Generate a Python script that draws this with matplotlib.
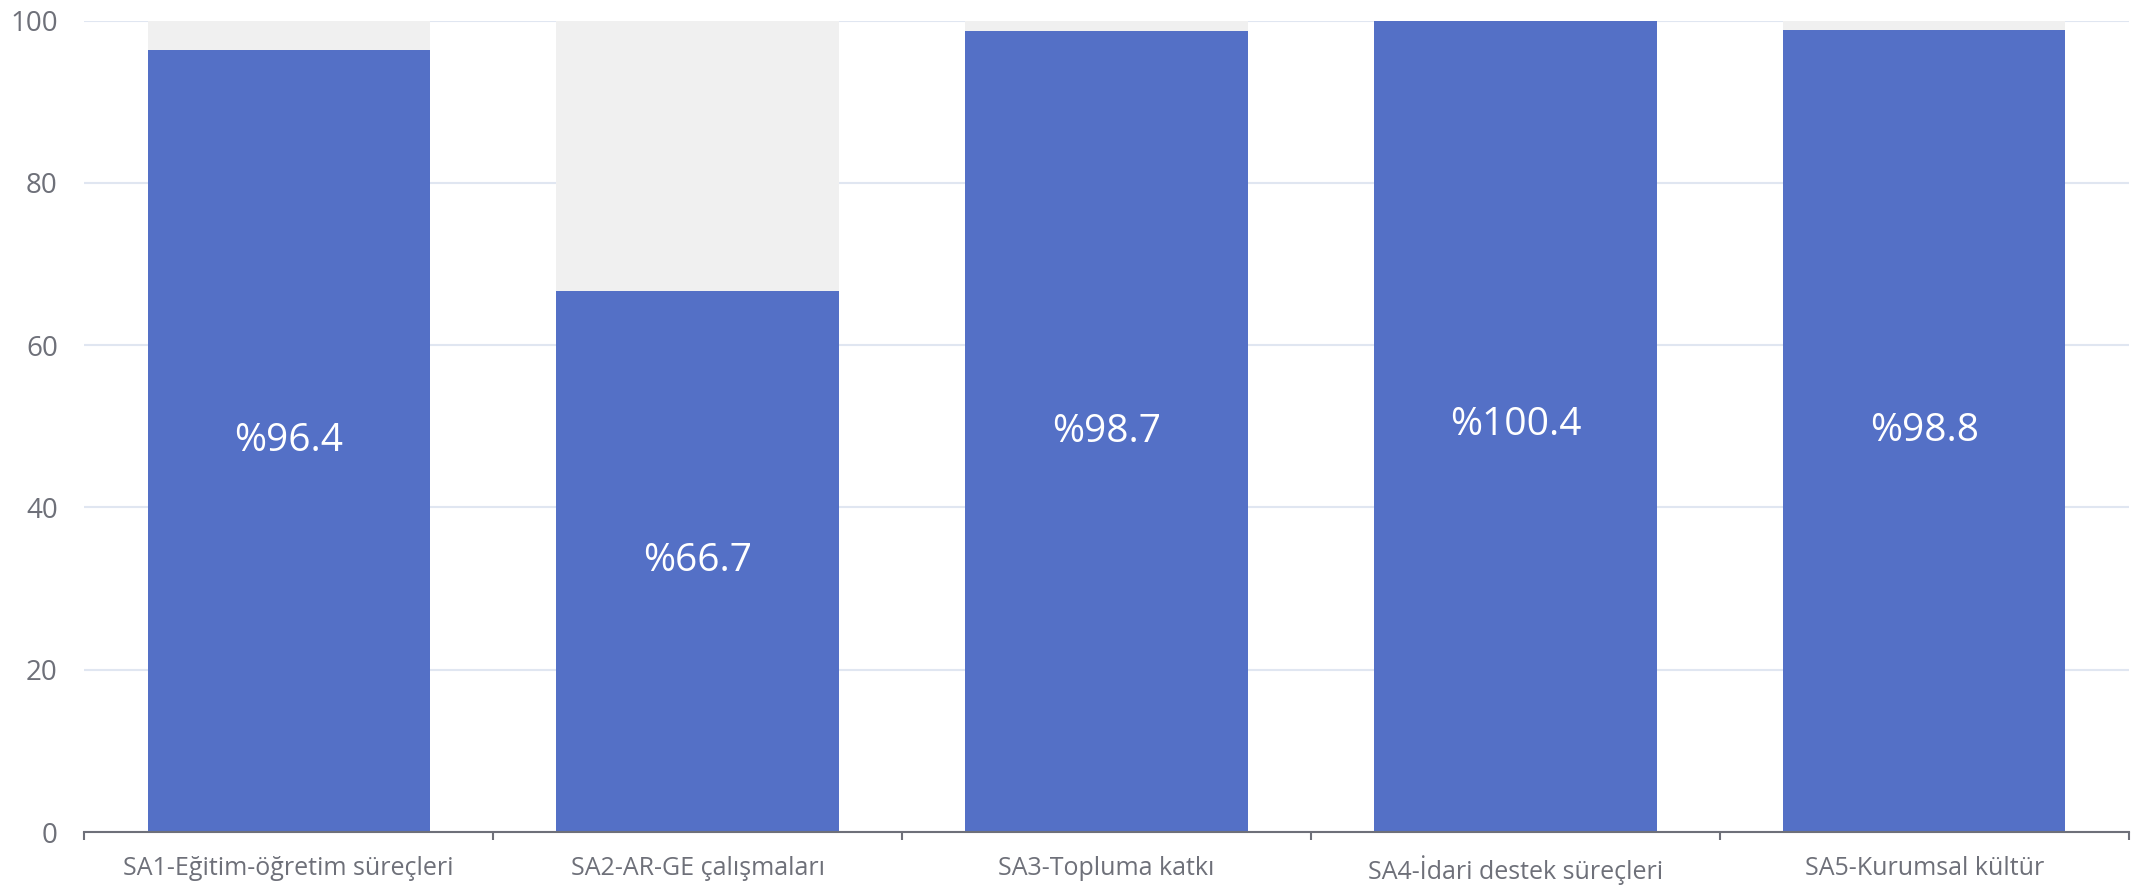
import numpy as np
import matplotlib.pyplot as plt

# Data
categories = ['SA1-Eğitim-öğretim süreçleri', 'SA2-AR-GE çalışmaları', 'SA3-Topluma katkı',
              'SA4-İdari destek süreçleri', 'SA5-Kurumsal kültür']
values = [96.4, 66.7, 98.7, 100.4, 98.8]
background = [100, 100, 100, 100, 100]
y_ticks = [0, 20, 40, 60, 80, 100]

plt.rcParams['font.family'] = ['Open Sans', 'DejaVu Sans']

fig = plt.figure(figsize=(21.31, 8.93), dpi=100)
ax = fig.add_axes([0.0395, 0.0683, 0.9595, 0.9087])

x = np.arange(len(categories))
width = 0.69

# background bars and the value bars
ax.bar(x, background, width=width, color='#F0F0F0', zorder=1)
ax.bar(x, values, width=width, color='#5470C6', zorder=2)

# labels in the middle of each bar
for xi, v in zip(x, values):
    ax.text(xi, v / 2, f'%{v}', ha='center', va='center', color='white',
            fontsize=28, zorder=3)

ax.set_xlim(-0.5, len(categories) - 0.5)
ax.set_ylim(0, 100)
ax.set_yticks(y_ticks)
ax.set_xticks(x)
ax.set_xticklabels(categories)
ax.set_xticks(np.arange(-0.5, len(categories)), minor=True)

ax.grid(axis='y', color='#E0E6F1', linewidth=1.5, zorder=0)
ax.set_axisbelow(True)

for side in ['top', 'right', 'left']:
    ax.spines[side].set_visible(False)
ax.spines['bottom'].set_color('#6E7079')
ax.spines['bottom'].set_linewidth(1.5)

ax.tick_params(axis='y', length=0, pad=19, labelsize=20, labelcolor='#6E7079')
ax.tick_params(axis='x', which='major', length=0, pad=17, labelsize=18, labelcolor='#6E7079')
ax.tick_params(axis='x', which='minor', length=6, width=1.5, color='#6E7079')

fig.savefig('out.png', dpi=100, facecolor='white')
